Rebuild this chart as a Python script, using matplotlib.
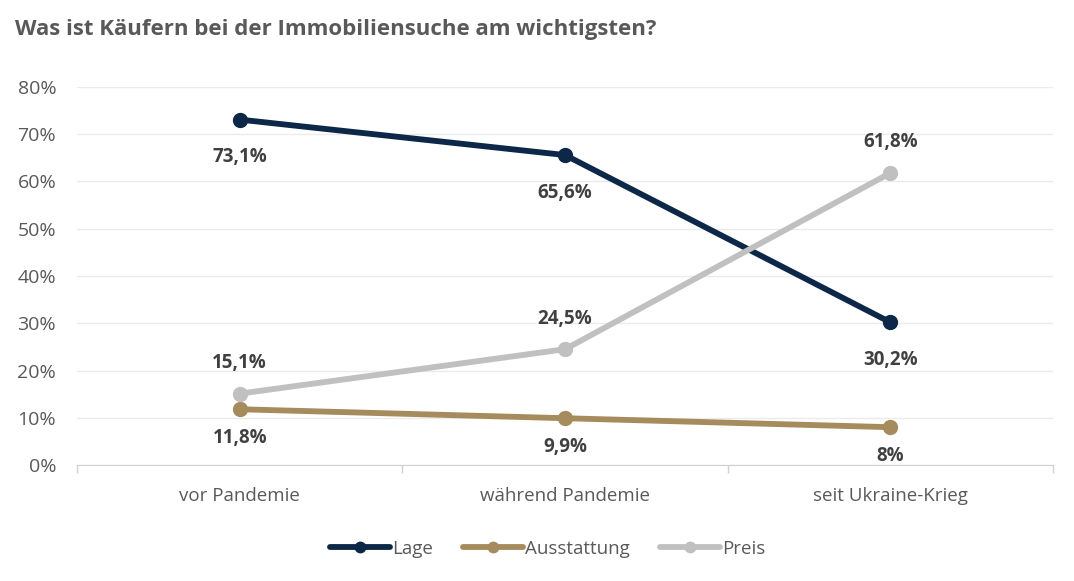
import numpy as np
import matplotlib
matplotlib.use('Agg')
import matplotlib.pyplot as plt
from matplotlib.ticker import FixedLocator

plt.rcParams['font.family'] = ['Open Sans', 'DejaVu Sans']

categories = ['vor Pandemie', 'während Pandemie', 'seit Ukraine-Krieg']
lage = [73.1, 65.6, 30.2]
ausstattung = [11.8, 9.9, 8.0]
preis = [15.1, 24.5, 61.8]
lage_labels = ['73,1%', '65,6%', '30,2%']
ausstattung_labels = ['11,8%', '9,9%', '8%']
preis_labels = ['15,1%', '24,5%', '61,8%']

c_lage = '#0c2748'
c_aus = '#a68b5c'
c_preis = '#c0c0c0'
txt = '#404040'

fig = plt.figure(figsize=(10.74, 5.81), dpi=100)
ax = fig.add_axes([77/1074, 1-465/581, 976/1074, (465-87)/581])

x = np.arange(len(categories))
# label offset in points (negative = below the point)
series = [
    ('Lage', lage, lage_labels, c_lage, -27),
    ('Ausstattung', ausstattung, ausstattung_labels, c_aus, -21),
    ('Preis', preis, preis_labels, c_preis, 22),
]
for name, vals, labs, col, off in series:
    ax.plot(x, vals, color=col, lw=4.2, marker='o', ms=10, label=name,
            solid_capstyle='round')
    for xi, v, lab in zip(x, vals, labs):
        ax.annotate(lab, (xi, v), xytext=(0, off), textcoords='offset points',
                    ha='center', va='center', fontsize=13.5, fontweight='bold', color=txt)

ax.set_xlim(-0.5, 2.5)
ax.set_ylim(0, 80)
ax.set_yticks(np.arange(0, 81, 10))
ax.set_yticklabels(['{:d}%'.format(v) for v in range(0, 81, 10)])
ax.set_xticks(x)
ax.set_xticklabels(categories)
ax.xaxis.set_minor_locator(FixedLocator([-0.5, 0.5, 1.5, 2.5]))
ax.tick_params(axis='x', which='major', length=0, pad=16, labelsize=13.5, labelcolor='#595959')
ax.tick_params(axis='x', which='minor', length=6, color='#d0d0d0', width=1)
ax.tick_params(axis='y', length=0, pad=15, labelsize=14, labelcolor='#595959')
for s in ['top', 'right', 'left']:
    ax.spines[s].set_visible(False)
ax.spines['bottom'].set_color('#d0d0d0')
ax.grid(axis='y', color='#ebebeb', lw=1)
ax.set_axisbelow(True)

fig.text(15/1074, 1-30/581, 'Was ist Käufern bei der Immobiliensuche am wichtigsten?',
         fontsize=16, fontweight='bold', color='#595959', va='center', ha='left')

fig.legend(loc='center', bbox_to_anchor=(0.51, 1-549/581), ncol=3, frameon=False,
           fontsize=13.5, handlelength=3.2, handletextpad=0.1, columnspacing=1.6,
           labelcolor='#595959', markerscale=0.75)

plt.savefig('out.png', dpi=100)
